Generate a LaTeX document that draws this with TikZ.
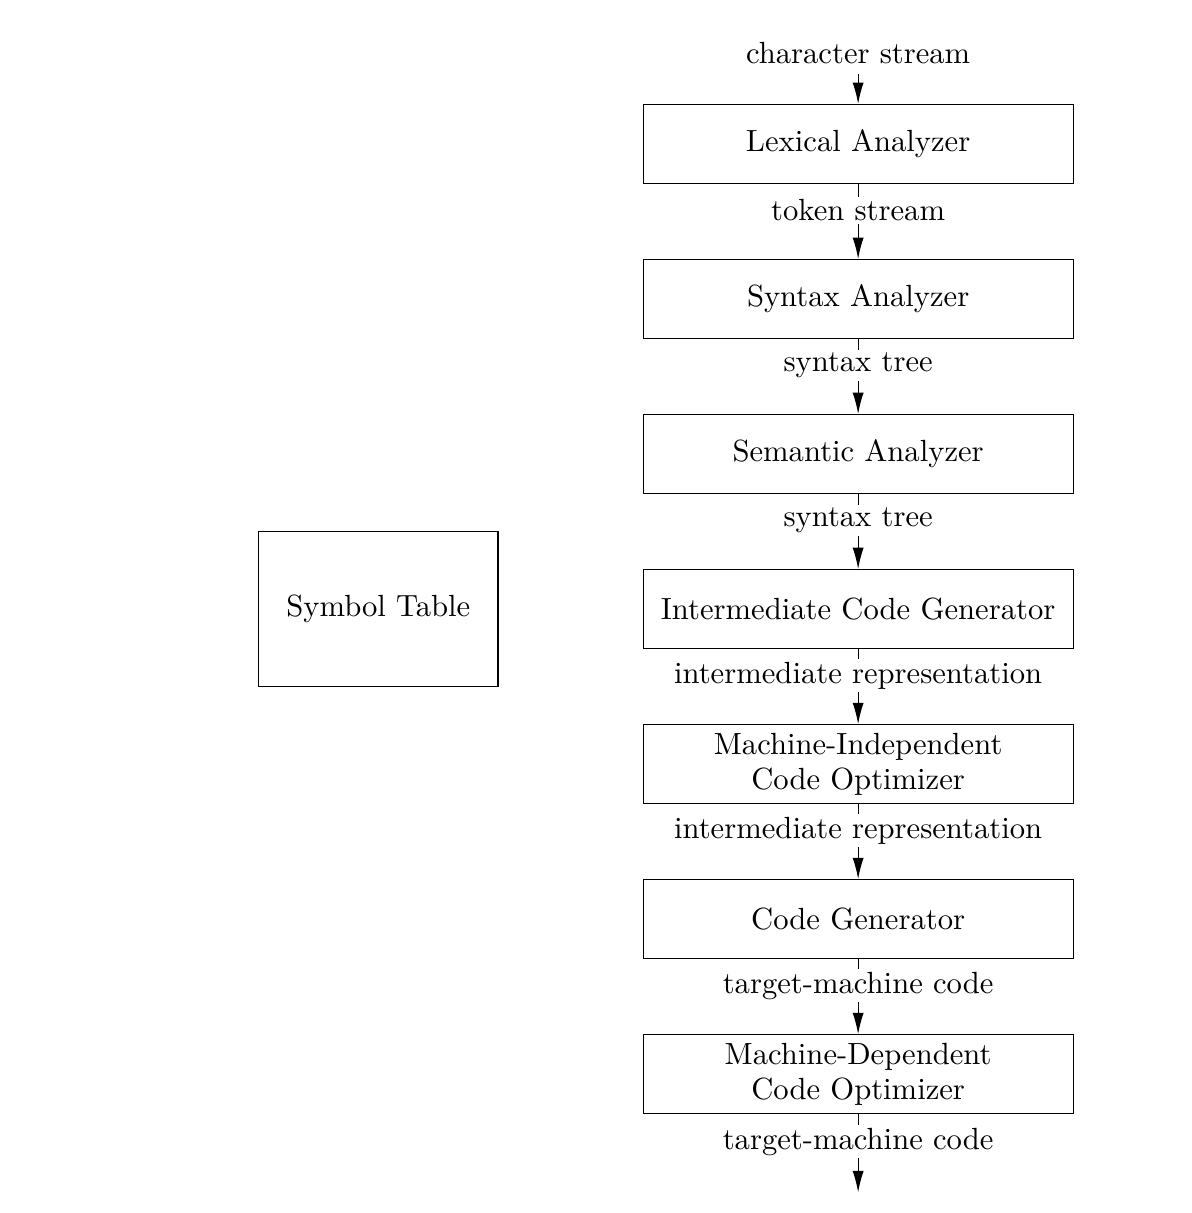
\documentclass[tikz,border=0pt]{standalone}
\usepackage{tikz}
\usetikzlibrary{positioning}
\usetikzlibrary{arrows.meta}

\begin{document}
\begin{tikzpicture}[
    node distance=0.876cm,
    font={\fontsize{10.2}{11.4}\selectfont},
    phaseBox/.style={draw, thin, minimum width=5.03cm, minimum height=0.924cm,
                     inner sep=1pt, align=center},
    tableBox/.style={draw, thin, minimum width=2.80cm, minimum height=1.81cm},
    flowArrow/.style={thin, -{Latex[length=2.5mm,width=1.3mm]}},
    streamLabel/.style={fill=white, inner sep=1pt, pos=0.35}
  ]

\useasboundingbox (0,0) rectangle (13.946,-14.192);

% phases
\node[phaseBox] (lex) at (10.04,-1.685) {Lexical Analyzer};
\node[phaseBox, below=of lex] (syn) {Syntax Analyzer};
\node[phaseBox, below=of syn] (sem) {Semantic Analyzer};
\node[phaseBox, below=of sem] (icg) {Intermediate Code Generator};
\node[phaseBox, below=of icg] (mico) {Machine-Independent\\Code Optimizer};
\node[phaseBox, below=of mico] (cg) {Code Generator};
\node[phaseBox, below=of cg] (mdco) {Machine-Dependent\\Code Optimizer};

\node[tableBox, left=1.685cm of icg] (symtab) {Symbol Table};

% input and output
\node (input) at (10.04,-0.62) {character stream};
\coordinate (output) at (10.04,-13.95);

% streams
\draw[flowArrow] (input) -- (lex);
\draw[flowArrow] (lex) -- node[streamLabel] {token stream} (syn);
\draw[flowArrow] (syn) -- node[streamLabel] {syntax tree} (sem);
\draw[flowArrow] (sem) -- node[streamLabel] {syntax tree} (icg);
\draw[flowArrow] (icg) -- node[streamLabel] {intermediate representation} (mico);
\draw[flowArrow] (mico) -- node[streamLabel] {intermediate representation} (cg);
\draw[flowArrow] (cg) -- node[streamLabel] {target-machine code} (mdco);
\draw[flowArrow] (mdco) -- node[streamLabel] {target-machine code} (output);

\end{tikzpicture}
\end{document}
